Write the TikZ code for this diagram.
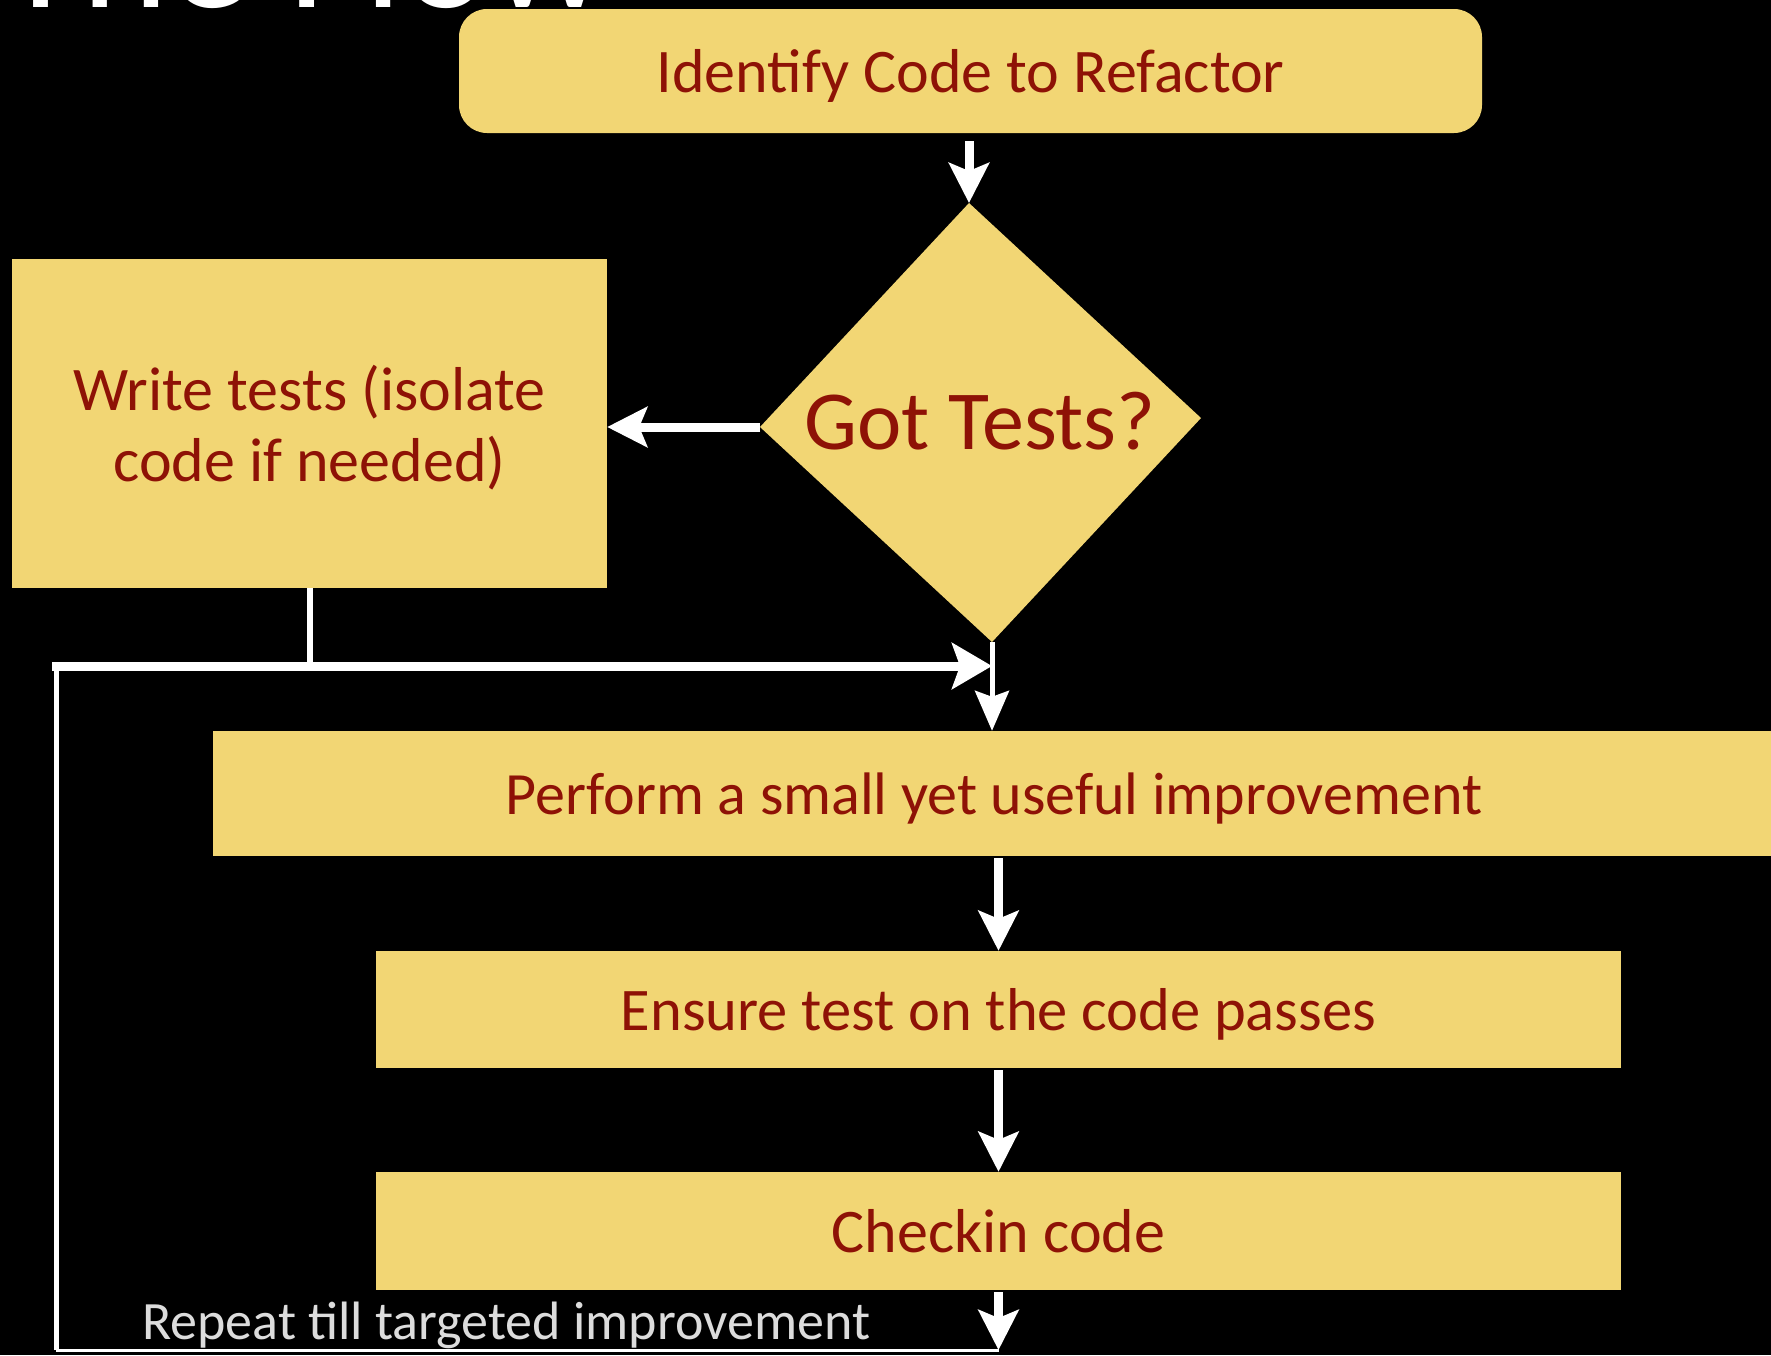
\documentclass[tikz,border=0pt]{standalone}
\usepackage{fontspec}
\setmainfont{Carlito}
\usetikzlibrary{arrows.meta}
\definecolor{parch}{HTML}{F2D674}
\definecolor{ink}{HTML}{8E1206}
\definecolor{greytxt}{HTML}{DCDCDC}
\begin{document}
\begin{tikzpicture}[x=1pt,y=-1pt,
  box/.style={fill=parch, draw=none, inner sep=0pt, text=ink, align=center, text depth=0pt},
  flow/.style={draw=white, line width=9pt, -{Stealth[length=40pt,width=40pt,inset=8pt]}},
  thinflow/.style={draw=white, line width=5pt, -{Stealth[length=40pt,width=34pt,inset=6pt]}},
  wire/.style={draw=white, line width=5pt}]
\fill[black] (0,0) rectangle (1771,1355);
\clip (0,0) rectangle (1771,1355);
% title (cut off at top, as in the original slide)
\node[text=white, anchor=base west, inner sep=0pt, font=\fontsize{166}{166}\selectfont] (title) at (0,7) {The Flow};
% boxes
\node[box, font=\fontsize{62}{62}\selectfont, minimum width=1023pt, minimum height=124pt, rounded corners=28pt] (identify) at (970.5,71) {Identify Code to Refactor};
\node[box, font=\fontsize{62}{71}\selectfont, minimum width=595pt, minimum height=329pt] (write) at (309.5,423.5) {Write tests (isolate\\code if needed)};
\node[box, font=\fontsize{60}{60}\selectfont, minimum width=1562pt, minimum height=125pt] (perform) at (994,793.5) {Perform a small yet useful improvement};
\node[box, font=\fontsize{60.5}{60}\selectfont, minimum width=1245pt, minimum height=117pt] (ensure) at (998.5,1009.5) {Ensure test on the code passes};
\node[box, font=\fontsize{62}{62}\selectfont, minimum width=1245pt, minimum height=118pt] (checkin) at (998.5,1231) {Checkin code};
% diamond
\coordinate (dT) at (969,203);
\coordinate (dR) at (1201,418);
\coordinate (dB) at (992,642);
\coordinate (dL) at (760,427);
\fill[parch] (dT) -- (dR) -- (dB) -- (dL) -- cycle;
\node[text=ink, inner sep=0pt, font=\fontsize{84}{84}\selectfont] (got) at (980,421) {Got Tests?};
% loop coordinates
\coordinate (loopTL) at (56,666);
\coordinate (loopBL) at (56,1350);
\coordinate (join) at (992,666);
% connectors
\draw[flow] (969,141) -- (dT);
\draw[flow] (dL) -- (dL -| write.east);
\draw[thinflow] (dB) -- (dB |- perform.north);
\draw[flow] (ensure.north |- perform.south) ++(0,2) -- (ensure.north);
\draw[flow] (ensure.south) ++(0,2) -- (checkin.north);
\draw[flow] (checkin.south) ++(0,2) -- (checkin.south |- loopBL);
\draw[wire, line width=3pt] (checkin.south |- loopBL) -- (loopBL);
\draw[wire] (loopBL) -- (loopTL);
\draw[wire, line width=6pt] (write.south) -- (write.south |- loopTL);
\draw[white, line width=9pt, -{Stealth[length=40pt,width=46pt,inset=8pt]}] (52,666) -- (join);
% label
\node[text=greytxt, anchor=base west, inner sep=0pt, font=\fontsize{54}{54}\selectfont] (repeat) at (142,1339) {Repeat till targeted improvement};
\end{tikzpicture}
\end{document}
